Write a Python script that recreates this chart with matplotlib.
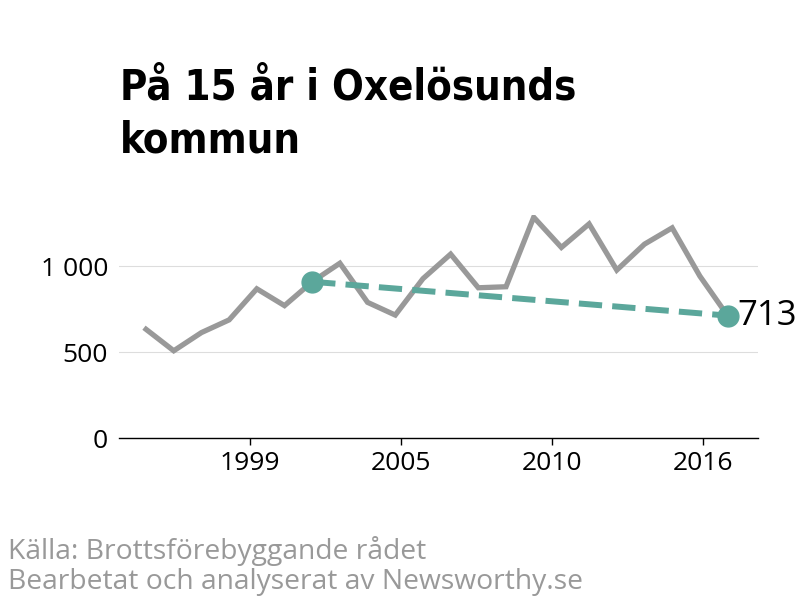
import matplotlib.pyplot as plt

years = list(range(1995, 2017))
values = [633, 508, 614, 688, 869, 771, 910, 1018, 790, 716, 928, 1071,
          875, 881, 1286, 1110, 1247, 978, 1129, 1224, 943, 713]

trend_years = [2001, 2016]
trend_values = [910, 713]

tick_pos = [1998.75, 2004.2, 2009.65, 2015.1]
tick_labels = ['1999', '2005', '2010', '2016']
ytick_pos = [0, 500, 1000]
ytick_labels = ['0', '500', '1 000']

grey = '#999999'
teal = '#5ba79b'

plt.rcParams['font.family'] = ['Open Sans', 'DejaVu Sans']

fig = plt.figure(figsize=(8, 6), dpi=100)
ax = fig.add_axes([0.149, 0.27, 0.7985, 0.372])

ax.plot(years, values, color=grey, lw=3.8, solid_joinstyle='miter', zorder=2)
ax.plot(trend_years, trend_values, color=teal, lw=4.3, dashes=(3.9, 1.7),
        dash_capstyle='butt', zorder=3)
ax.plot(trend_years, trend_values, 'o', color=teal, ms=15, zorder=4)
ax.text(trend_years[1] + 0.35, trend_values[1], str(trend_values[1]),
        fontsize=25, va='center', ha='left', color='black')

ax.set_xlim(1994.03, 2017.1)
ax.set_ylim(0, 1300)
ax.set_xticks(tick_pos)
ax.set_xticklabels(tick_labels)
ax.set_yticks(ytick_pos)
ax.set_yticklabels(ytick_labels)
ax.tick_params(axis='x', length=5, width=1, color='black', labelsize=19, pad=4)
ax.tick_params(axis='y', length=0, labelsize=19, pad=8)
ax.grid(axis='y', color='#dddddd', lw=0.8)
ax.set_axisbelow(True)
for s in ['left', 'right', 'top']:
    ax.spines[s].set_visible(False)
ax.spines['bottom'].set_color('black')
ax.spines['bottom'].set_linewidth(1)

title_kw = dict(family='DejaVu Sans', fontstretch='condensed',
                fontweight='bold', fontsize=30, va='baseline')
fig.text(0.15, 1 - 100 / 600, 'På 15 år i Oxelösunds', **title_kw)
fig.text(0.15, 1 - 152 / 600, 'kommun', **title_kw)

fig.text(0.01, 1 - 559 / 600, 'Källa: Brottsförebyggande rådet',
         fontsize=20.3, color=grey, va='baseline')
fig.text(0.01, 1 - 589 / 600, 'Bearbetat och analyserat av Newsworthy.se',
         fontsize=20.3, color=grey, va='baseline')

fig.savefig('out.png', dpi=100)
